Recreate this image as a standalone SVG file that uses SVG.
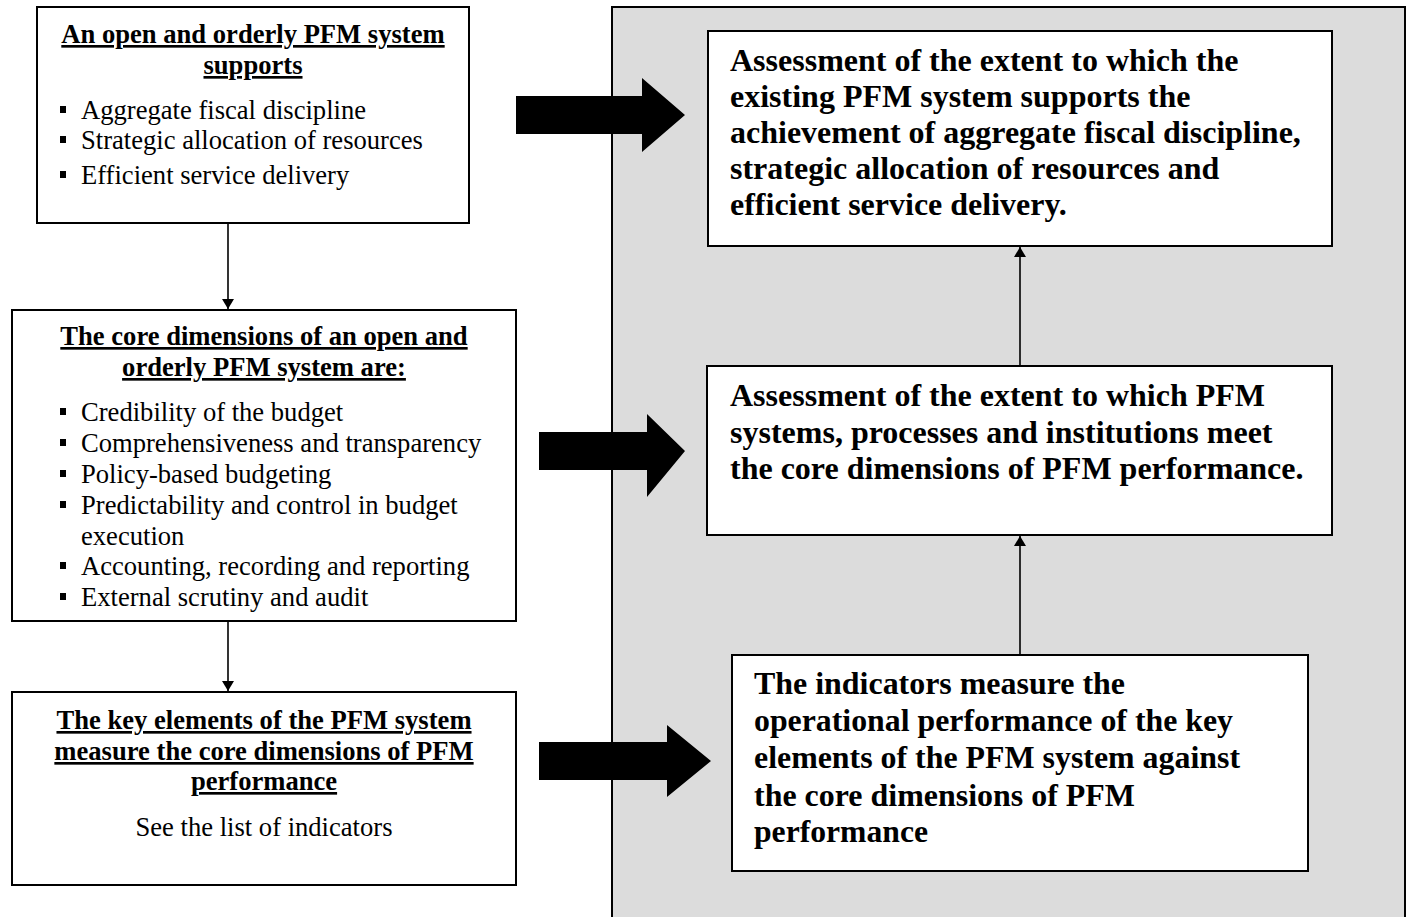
<svg xmlns="http://www.w3.org/2000/svg" width="1411" height="917" viewBox="0 0 1411 917">
<style>
.box{fill:#fff;stroke:#000;stroke-width:2}
.t{font-family:"Liberation Serif","Times New Roman",serif;font-size:26.6px;fill:#000}
.h{font-weight:bold;text-decoration:underline;text-anchor:middle}
.b{font-family:"Liberation Serif","Times New Roman",serif;font-size:32px;font-weight:bold;fill:#000}
.bul{fill:#000}
.ln{stroke:#000;stroke-width:1.6;fill:none}
.blk{fill:#000}
</style>
<defs>
<marker id="ah" markerWidth="12" markerHeight="12" refX="10" refY="6" orient="auto" markerUnits="userSpaceOnUse">
<path d="M0,0 L10,6 L0,12 z" fill="#000"/>
</marker>
</defs>
<rect width="1411" height="917" fill="#fff"/>
<g id="panel">
<rect x="612" y="7" width="793" height="920" fill="#dcdcdc" stroke="#000" stroke-width="2"/>
</g>
<g id="nodeA">
<rect class="box" x="37" y="7" width="432" height="216"/>
<text class="t h" x="253" y="43">An open and orderly PFM system</text>
<text class="t h" x="253" y="74">supports</text>
<rect class="bul" x="60" y="106" width="6" height="7"/>
<text class="t" x="81" y="119">Aggregate fiscal discipline</text>
<rect class="bul" x="60" y="136" width="6" height="7"/>
<text class="t" x="81" y="149">Strategic allocation of resources</text>
<rect class="bul" x="60" y="171" width="6" height="7"/>
<text class="t" x="81" y="184">Efficient service delivery</text>
</g>
<g id="nodeB">
<rect class="box" x="12" y="310" width="504" height="311"/>
<text class="t h" x="264" y="345">The core dimensions of an open and</text>
<text class="t h" x="264" y="376">orderly PFM system are:</text>
<rect class="bul" x="60" y="408" width="6" height="7"/>
<text class="t" x="81" y="421">Credibility of the budget</text>
<rect class="bul" x="60" y="439" width="6" height="7"/>
<text class="t" x="81" y="452">Comprehensiveness and transparency</text>
<rect class="bul" x="60" y="470" width="6" height="7"/>
<text class="t" x="81" y="483">Policy-based budgeting</text>
<rect class="bul" x="60" y="501" width="6" height="7"/>
<text class="t" x="81" y="514">Predictability and control in budget</text>
<text class="t" x="81" y="545">execution</text>
<rect class="bul" x="60" y="562" width="6" height="7"/>
<text class="t" x="81" y="575">Accounting, recording and reporting</text>
<rect class="bul" x="60" y="593" width="6" height="7"/>
<text class="t" x="81" y="606">External scrutiny and audit</text>
</g>
<g id="nodeC">
<rect class="box" x="12" y="692" width="504" height="193"/>
<text class="t h" x="264" y="729">The key elements of the PFM system</text>
<text class="t h" x="264" y="760">measure the core dimensions of PFM</text>
<text class="t h" x="264" y="790">performance</text>
<text class="t" x="264" y="836" text-anchor="middle">See the list of indicators</text>
</g>
<g id="nodeR1">
<rect class="box" x="708" y="31" width="624" height="215"/>
<text class="b" x="730" y="71">Assessment of the extent to which the</text>
<text class="b" x="730" y="107">existing PFM system supports the</text>
<text class="b" x="730" y="143">achievement of aggregate fiscal discipline,</text>
<text class="b" x="730" y="179">strategic allocation of resources and</text>
<text class="b" x="730" y="215">efficient service delivery.</text>
</g>
<g id="nodeR2">
<rect class="box" x="707" y="366" width="625" height="169"/>
<text class="b" x="730" y="406">Assessment of the extent to which PFM</text>
<text class="b" x="730" y="443">systems, processes and institutions meet</text>
<text class="b" x="730" y="479">the core dimensions of PFM performance.</text>
</g>
<g id="nodeR3">
<rect class="box" x="732" y="655" width="576" height="216"/>
<text class="b" x="754" y="694" textLength="371" lengthAdjust="spacingAndGlyphs">The indicators measure the</text>
<text class="b" x="754" y="731" textLength="479" lengthAdjust="spacingAndGlyphs">operational performance of the key</text>
<text class="b" x="754" y="768" textLength="486" lengthAdjust="spacingAndGlyphs">elements of the PFM system against</text>
<text class="b" x="754" y="806" textLength="381" lengthAdjust="spacingAndGlyphs">the core dimensions of PFM</text>
<text class="b" x="754" y="842" textLength="174" lengthAdjust="spacingAndGlyphs">performance</text>
</g>
<g id="connectors">
<line class="ln" x1="228" y1="223" x2="228" y2="309" marker-end="url(#ah)"/>
<line class="ln" x1="228" y1="621" x2="228" y2="691" marker-end="url(#ah)"/>
<line class="ln" x1="1020" y1="366" x2="1020" y2="247" marker-end="url(#ah)"/>
<line class="ln" x1="1020" y1="655" x2="1020" y2="536" marker-end="url(#ah)"/>
<polygon class="blk" points="516,96 642,96 642,78 685,115 642,152 642,134 516,134"/>
<polygon class="blk" points="539,432 647,432 647,414 685,451 647,497 647,470 539,470"/>
<polygon class="blk" points="539,742 667,742 667,725 711,761 667,797 667,780 539,780"/>
</g>
</svg>
